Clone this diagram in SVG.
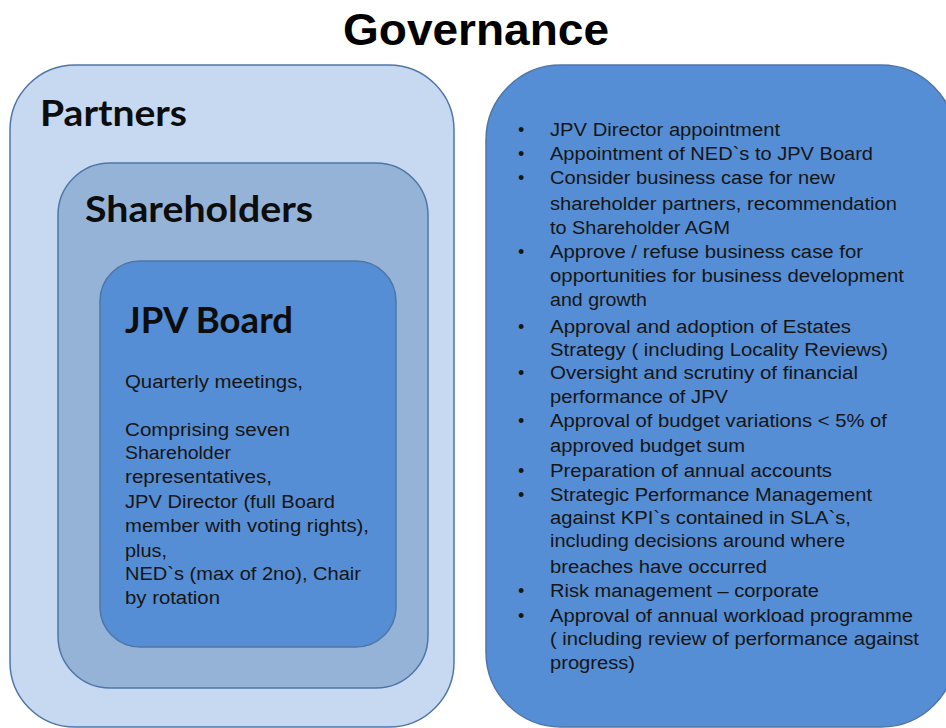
<svg xmlns="http://www.w3.org/2000/svg" width="946" height="728" viewBox="0 0 946 728">
<style>
.box{stroke:#4f76a8;stroke-width:1.5}
.h{font-family:Lato,"Open Sans",sans-serif;font-weight:700;font-size:36px;fill:#0d0d0d}
.t{font-family:"Liberation Sans",Arial,sans-serif;font-size:18px;fill:#151515}
</style>
<rect width="946" height="728" fill="#ffffff"/>
<text x="476" y="45" text-anchor="middle" font-family="Liberation Sans, Arial, sans-serif" font-weight="700" font-size="45" fill="#000" textLength="266" lengthAdjust="spacingAndGlyphs">Governance</text>
<g id="partners">
<rect class="box" x="10" y="65" width="444" height="662" rx="65" fill="#c6d9f1"/>
<text class="h" x="40" y="126" textLength="147" lengthAdjust="spacingAndGlyphs">Partners</text>
</g>
<g id="shareholders">
<rect class="box" x="58" y="163" width="370" height="525" rx="52" fill="#95b3d7"/>
<text class="h" x="85" y="222" textLength="228" lengthAdjust="spacingAndGlyphs">Shareholders</text>
</g>
<g id="jpv-board">
<rect class="box" x="100" y="261" width="296" height="386" rx="40" fill="#558ed5"/>
<text class="h" x="125" y="333" textLength="168" lengthAdjust="spacingAndGlyphs">JPV Board</text>
<text class="t" x="125" y="388" textLength="178" lengthAdjust="spacingAndGlyphs">Quarterly meetings,</text>
<text class="t" x="125" y="436" textLength="165" lengthAdjust="spacingAndGlyphs">Comprising seven</text>
<text class="t" x="125" y="459" textLength="106" lengthAdjust="spacingAndGlyphs">Shareholder</text>
<text class="t" x="125" y="483" textLength="147" lengthAdjust="spacingAndGlyphs">representatives,</text>
<text class="t" x="125" y="508" textLength="210" lengthAdjust="spacingAndGlyphs">JPV Director (full Board</text>
<text class="t" x="125" y="532" textLength="244" lengthAdjust="spacingAndGlyphs">member with voting rights),</text>
<text class="t" x="125" y="557" textLength="42" lengthAdjust="spacingAndGlyphs">plus,</text>
<text class="t" x="125" y="580" textLength="236" lengthAdjust="spacingAndGlyphs">NED`s (max of 2no), Chair</text>
<text class="t" x="125" y="604" textLength="95" lengthAdjust="spacingAndGlyphs">by rotation</text>
</g>
<g id="governance-list">
<rect class="box" x="486" y="65" width="470" height="662" rx="75" fill="#558ed5"/>
<g class="t">
<text x="518" y="136">•</text><text x="550" y="136" textLength="230" lengthAdjust="spacingAndGlyphs">JPV Director appointment</text>
<text x="518" y="160">•</text><text x="550" y="160" textLength="323" lengthAdjust="spacingAndGlyphs">Appointment of NED`s to JPV Board</text>
<text x="518" y="184">•</text><text x="550" y="184" textLength="285" lengthAdjust="spacingAndGlyphs">Consider business case for new</text>
<text x="550" y="210" textLength="347" lengthAdjust="spacingAndGlyphs">shareholder partners, recommendation</text>
<text x="550" y="234" textLength="180" lengthAdjust="spacingAndGlyphs">to Shareholder AGM</text>
<text x="518" y="258">•</text><text x="550" y="258" textLength="313" lengthAdjust="spacingAndGlyphs">Approve / refuse business case for</text>
<text x="550" y="282" textLength="354" lengthAdjust="spacingAndGlyphs">opportunities for business development</text>
<text x="550" y="306" textLength="97" lengthAdjust="spacingAndGlyphs">and growth</text>
<text x="518" y="333">•</text><text x="550" y="333" textLength="301" lengthAdjust="spacingAndGlyphs">Approval and adoption of Estates</text>
<text x="550" y="356" textLength="338" lengthAdjust="spacingAndGlyphs">Strategy ( including Locality Reviews)</text>
<text x="518" y="379">•</text><text x="550" y="379" textLength="308" lengthAdjust="spacingAndGlyphs">Oversight and scrutiny of financial</text>
<text x="550" y="403" textLength="178" lengthAdjust="spacingAndGlyphs">performance of JPV</text>
<text x="518" y="427">•</text><text x="550" y="427" textLength="337" lengthAdjust="spacingAndGlyphs">Approval of budget variations &lt; 5% of</text>
<text x="550" y="452" textLength="195" lengthAdjust="spacingAndGlyphs">approved budget sum</text>
<text x="518" y="477">•</text><text x="550" y="477" textLength="282" lengthAdjust="spacingAndGlyphs">Preparation of annual accounts</text>
<text x="518" y="501">•</text><text x="550" y="501" textLength="322" lengthAdjust="spacingAndGlyphs">Strategic Performance Management</text>
<text x="550" y="524" textLength="301" lengthAdjust="spacingAndGlyphs">against KPI`s contained in SLA`s,</text>
<text x="550" y="547" textLength="295" lengthAdjust="spacingAndGlyphs">including decisions around where</text>
<text x="550" y="573" textLength="217" lengthAdjust="spacingAndGlyphs">breaches have occurred</text>
<text x="518" y="597">•</text><text x="550" y="597" textLength="269" lengthAdjust="spacingAndGlyphs">Risk management – corporate</text>
<text x="518" y="622">•</text><text x="550" y="622" textLength="363" lengthAdjust="spacingAndGlyphs">Approval of annual workload programme</text>
<text x="550" y="645" textLength="369" lengthAdjust="spacingAndGlyphs">( including review of performance against</text>
<text x="550" y="669" textLength="85" lengthAdjust="spacingAndGlyphs">progress)</text>
</g>
</g>
<g id="connectors"></g>
</svg>
